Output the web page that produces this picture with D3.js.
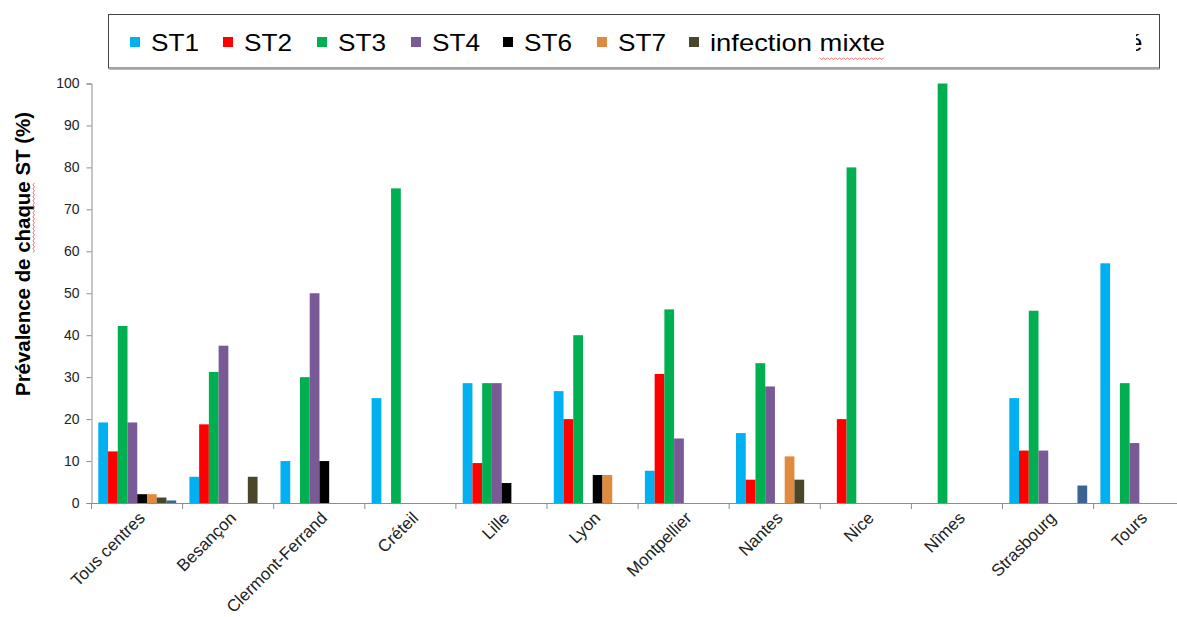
<!DOCTYPE html>
<html>
<head>
<meta charset="utf-8">
<script src="https://cdn.jsdelivr.net/npm/d3@7"></script>
<style>
  body { margin: 0; background: #fff; }
  svg { display: block; font-family: "Liberation Sans", Arial, sans-serif; }
</style>
</head>
<body>
<svg id="chart" width="1177" height="617"></svg>
<script>
const categories = ["Tous centres","Besançon","Clermont-Ferrand","Créteil","Lille","Lyon","Montpellier","Nantes","Nice","Nîmes","Strasbourg","Tours"];
const seriesNames = ["ST1","ST2","ST3","ST4","ST6","ST7","infection mixte","indéterminé"];
const seriesColors = ["#00b0f0","#ff0000","#00b050","#7a5a96","#000000","#e08a3e","#4a4629","#3b6394"];
const ST1   = [19.2, 6.25, 10, 25, 28.57, 26.67, 7.69, 16.67, 0, 0, 25, 57.14];
const ST2   = [12.3, 18.75, 0, 0, 9.52, 20, 30.77, 5.56, 20, 0, 12.5, 0];
const ST3   = [42.2, 31.25, 30, 75, 28.57, 40, 46.15, 33.33, 80, 100, 45.83, 28.57];
const ST4   = [19.2, 37.5, 50, 0, 28.57, 0, 15.38, 27.78, 0, 0, 12.5, 14.29];
const ST6   = [2.1, 0, 10, 0, 4.76, 6.67, 0, 0, 0, 0, 0, 0];
const ST7   = [2.1, 0, 0, 0, 0, 6.67, 0, 11.11, 0, 0, 0, 0];
const mixte = [1.3, 6.25, 0, 0, 0, 0, 0, 5.56, 0, 0, 0, 0];
const indet = [0.6, 0, 0, 0, 0, 0, 0, 0, 0, 0, 4.17, 0];
const seriesValues = [ST1, ST2, ST3, ST4, ST6, ST7, mixte, indet];
const yTicks = [0,10,20,30,40,50,60,70,80,90,100];
const legendCount = 7;

const svg = d3.select("#chart");
const x0 = 91.5, step = 91.1;
const x = d3.scaleBand().domain(categories).range([x0, x0 + step * categories.length]).padding(0);
const x1 = d3.scaleBand().domain(seriesNames).range([6.8, step - 6.4]).padding(0);
const y = d3.scaleLinear().domain([0, 100]).range([503, 83.5]);

// bars
categories.forEach((c, ci) => {
  const g = svg.append("g").attr("transform", `translate(${x(c)},0)`);
  seriesNames.forEach((s, si) => {
    const v = seriesValues[si][ci];
    if (!v) return;
    g.append("rect")
      .attr("x", x1(s))
      .attr("y", y(v))
      .attr("width", x1.bandwidth())
      .attr("height", y(0) - y(v))
      .attr("fill", seriesColors[si]);
  });
});

// y axis
const yAxis = svg.append("g").attr("transform", `translate(${x0},0)`)
  .call(d3.axisLeft(y).tickValues(yTicks).tickSize(5).tickPadding(7).tickFormat(d3.format("d")));
yAxis.select(".domain").attr("stroke", "#8c8c8c");
yAxis.selectAll(".tick line").attr("stroke", "#8c8c8c");
yAxis.selectAll(".tick text").attr("font-size", 14).attr("fill", "#222")
  .attr("font-family", "'Liberation Sans', Arial, sans-serif");

// x axis
const xAxis = svg.append("g").attr("transform", `translate(0,${y(0)})`)
  .call(d3.axisBottom(x).tickSize(0).tickFormat(""));
xAxis.select(".domain").attr("stroke", "#8c8c8c");
const boundaries = categories.map(c => x(c)).concat([x0 + step * categories.length]);
svg.append("g").selectAll("line").data(boundaries).join("line")
  .attr("x1", d => d).attr("x2", d => d)
  .attr("y1", y(0)).attr("y2", y(0) + 6)
  .attr("stroke", "#8c8c8c");

// x labels
svg.append("g").selectAll("text").data(categories).join("text")
  .attr("transform", d => `translate(${x(d) + x.bandwidth() / 2 + 9},${y(0) + 16}) rotate(-45)`)
  .attr("text-anchor", "end")
  .attr("font-size", 17)
  .attr("fill", "#222")
  .text(d => d);

// wavy helper
function wavy(len) {
  let d = "";
  const n = Math.floor(len / 2);
  for (let i = 0; i <= n; i++) d += (i ? "L" : "M") + `${i * 2},${i % 2 ? 1.4 : 0}`;
  return d;
}

// y title
const title = "Prévalence de chaque ST (%)";
const ytG = svg.append("g").attr("transform", "translate(30,254) rotate(-90)");
const yt = ytG.append("text")
  .attr("text-anchor", "middle")
  .attr("font-size", 20)
  .attr("font-weight", "bold")
  .attr("fill", "#000")
  .attr("textLength", 284)
  .attr("lengthAdjust", "spacingAndGlyphs")
  .text(title);
{
  const i0 = title.indexOf("chaque"), i1 = i0 + 5;
  const a = yt.node().getExtentOfChar(i0), b = yt.node().getExtentOfChar(i1);
  ytG.append("path").attr("transform", `translate(${a.x},3)`)
    .attr("d", wavy(b.x + b.width - a.x)).attr("fill", "none").attr("stroke", "#e05050").attr("stroke-width", 0.8);
}

// legend
svg.append("rect").attr("x", 108.5).attr("y", 14.5).attr("width", 1051).attr("height", 53.5)
  .attr("fill", "#fff").attr("stroke", "#444").attr("stroke-width", 1);
svg.append("line").attr("x1", 109).attr("x2", 1160).attr("y1", 69.5).attr("y2", 69.5).attr("stroke", "#bbb");
const legendX = [130, 223, 317, 411, 503, 597, 689];
const lg = svg.append("g");
seriesNames.slice(0, legendCount).forEach((s, i) => {
  lg.append("rect").attr("x", legendX[i]).attr("y", 37).attr("width", 10).attr("height", 10).attr("fill", seriesColors[i]);
  const t = lg.append("text").attr("x", legendX[i] + 21).attr("y", 51).attr("font-size", 24).attr("fill", "#000")
    .attr("textLength", s === "infection mixte" ? 175 : 48)
    .attr("lengthAdjust", "spacingAndGlyphs")
    .text(s);
  if (s === "infection mixte") {
    const j0 = s.indexOf("mixte");
    const a = t.node().getExtentOfChar(j0), b = t.node().getExtentOfChar(s.length - 1);
    lg.append("path").attr("transform", `translate(${a.x},58)`)
      .attr("d", wavy(b.x + b.width - a.x)).attr("fill", "none").attr("stroke", "#e05050").attr("stroke-width", 0.8);
  }
});
// clipped leftover legend glyph
svg.append("clipPath").attr("id", "clipE").append("rect").attr("x", 1136).attr("y", 20).attr("width", 20).attr("height", 45);
svg.append("text").attr("x", 1129).attr("y", 51).attr("font-size", 24).attr("fill", "#000")
  .attr("clip-path", "url(#clipE)").text("é");
</script>
</body>
</html>
